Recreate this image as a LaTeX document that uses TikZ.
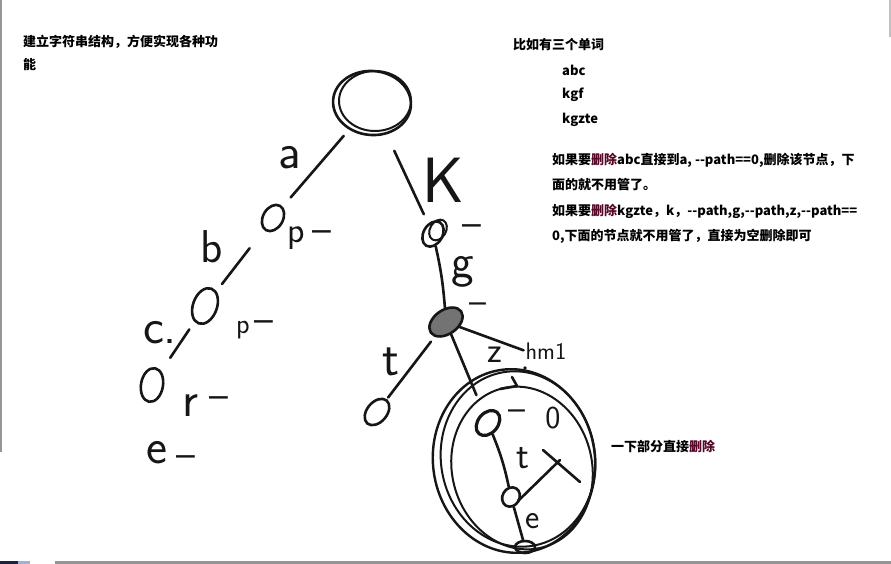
\documentclass[tikz,border=0pt]{standalone}
\usepackage{fontspec}
\setmainfont{Noto Sans CJK SC}
\usetikzlibrary{shapes.geometric,calc}
\definecolor{ink}{RGB}{22,22,22}
\definecolor{delred}{RGB}{85,8,40}
\definecolor{framegray}{RGB}{150,150,150}
\definecolor{navy}{RGB}{25,35,70}
\definecolor{paleblue}{RGB}{160,175,215}
\newcommand{\del}{\textcolor{delred}{删除}}
\tikzset{
  sk/.style={draw=ink, line width=2.6pt, line cap=round, line join=round},
  tnode/.style={ellipse, draw=ink, line width=2.6pt, inner sep=0pt},
  hand/.style={font=\fontsize{#1}{#1}\selectfont\sffamily, text=ink, inner sep=0pt},
  txt/.style={font=\fontsize{13}{13}\selectfont\bfseries, anchor=west, inner sep=0pt, text=black},
}
\begin{document}
\begin{tikzpicture}[x=1pt,y=-1pt]
\useasboundingbox (0,0) rectangle (891,564);
\fill[white] (0,0) rectangle (891,564);
% window frame remnants
\fill[framegray] (0,0) rectangle (2,452);
\fill[framegray!60] (889,0) rectangle (891,37);
\fill[framegray] (55,561) rectangle (891,564);
\fill[navy] (0,561) rectangle (18,564);
\fill[paleblue] (18,561) rectangle (30,564);

% texts
\node[txt] (t1) at (23,42) {建立字符串结构，方便实现各种功};
\node[txt] (t2) at (23,65) {能};
\node[txt] (t3) at (513,45) {比如有三个单词};
\node[txt] (w1) at (562,70) {abc};
\node[txt] (w2) at (562,95) {kgf};
\node[txt] (w3) at (562,120) {kgzte};
\node[txt] (p1) at (552,160) {如果要\del abc直接到a, -{}-path==0,删除该节点，下};
\node[txt] (p2) at (552,185) {面的就不用管了。};
\node[txt] (p3) at (552,211) {如果要\del kgzte，k，-{}-path,g,-{}-path,z,-{}-path==};
\node[txt] (p4) at (552,236) {0,下面的节点就不用管了，直接为空删除即可};
\node[txt] (note) at (611,447) {一下部分直接\del};

% trie nodes
\node[tnode, minimum width=78pt, minimum height=64pt, rotate=-5] (root) at (372,103) {};
\draw[sk, line width=2pt] ($(root.center)+(3,-2)$) ellipse [x radius=36, y radius=30];
\node[tnode, minimum width=20pt, minimum height=28pt, rotate=-30] (na) at (273,218) {};
\node[tnode, minimum width=24pt, minimum height=37pt, rotate=-20] (nb) at (205,306) {};
\node[tnode, minimum width=22pt, minimum height=34pt, rotate=-10] (nc) at (152,385) {};
\node[tnode, minimum width=19pt, minimum height=27pt, rotate=-30] (nk) at (433,234) {};
\draw[sk, line width=2pt, rotate around={-30:(438,230)}] (438,230) ellipse [x radius=8, y radius=11];
\node[tnode, fill=ink!60, minimum width=24pt, minimum height=37pt, rotate=-55] (ng) at (446,322) {};
\node[tnode, minimum width=20pt, minimum height=30pt, rotate=-40] (nt) at (377,412) {};
\node[tnode, line width=3.2pt, minimum width=20pt, minimum height=28pt, rotate=-40] (nz) at (488,423) {};
\node[tnode, minimum width=17pt, minimum height=20pt, rotate=-30] (ntt) at (511,497) {};
\node[tnode, minimum width=20pt, minimum height=12pt] (ne) at (525,547) {};

% big circle round the deleted part
\node[ellipse, draw=ink, line width=2.4pt, inner sep=0pt, minimum width=162pt, minimum height=184pt, rotate=8] (big) at (514,461) {};
\draw[sk, line width=2pt, rotate around={10:(518,459)}] (518,459) ellipse [x radius=77, y radius=88];
\draw[sk, line width=2pt, rotate around={14:(522,468)}] (522,468) ellipse [x radius=70, y radius=82];

% edges
\draw[sk, shorten <=8pt, shorten >=12pt] (root) -- (na);
\draw[sk, shorten <=18pt, shorten >=10pt] (root) -- (nk);
\draw[sk, shorten <=23pt, shorten >=9pt] (na) -- (nb);
\draw[sk, shorten <=9pt, shorten >=16pt] (nb) -- (nc);
\draw[sk] (nk) to[bend left=4] (ng);
\draw[sk, shorten <=6pt, shorten >=2pt] (ng) -- (nt);
\draw[sk, shorten >=18pt] (ng) -- (nz);
\draw[sk] (nz) to[bend left=5] (ntt);
\draw[sk] (ntt) -- (ne);

% hand-written labels
\node[hand=50] (la) at (290,158) {a};
\node[hand=36] (lp1) at (296,238) {p};
\node[hand=40] (d1) at (322,237) {–};
\node[hand=46] (lb) at (212,247) {b};
\node[hand=50] (lc) at (160,333) {c.};
\node[hand=28] (lp2) at (243,330) {p};
\node[hand=40] (d2) at (264,327) {–};
\node[hand=50] (lr) at (190,406) {r};
\node[hand=40] (d3) at (219,403) {–};
\node[hand=50] (le) at (157,453) {e};
\node[hand=40] (d4) at (186,462) {–};
\node[hand=64] (lk) at (443,180) {K};
\node[hand=40] (d5) at (472,231) {–};
\node[hand=48] (lg) at (463,272) {g};
\node[hand=36] (d6) at (478,308) {–};
\node[hand=50] (lt) at (391,362) {t};
\node[hand=36] (lz) at (495,355) {z};
\node[hand=24] (lh) at (546,351) {hm1};
\fill[ink] (525,368) circle (1.8);
\draw[sk, shorten >=2pt] (ng) -- (lh.west);
\node[hand=36] (d8) at (517,415) {–};
\node[hand=32] (l0) at (553,418) {0};
\node[hand=38] (lt2) at (523,458) {t};
\node[hand=34] (le2) at (533,521) {e};

% small hook stroke at top inside the circle
\coordinate (h1) at (500,389);
\coordinate (h2) at (517,386);
\coordinate (h3) at (512,377);
\draw[sk] (h1) -- (h2) -- (h3);

% cross marks
\coordinate (x1) at (518,501);
\coordinate (x2) at (560,460);
\coordinate (x3) at (543,450);
\coordinate (x4) at (580,482);
\draw[sk] (x1) -- (x2);
\draw[sk] (x3) -- (x4);
\end{tikzpicture}
\end{document}
